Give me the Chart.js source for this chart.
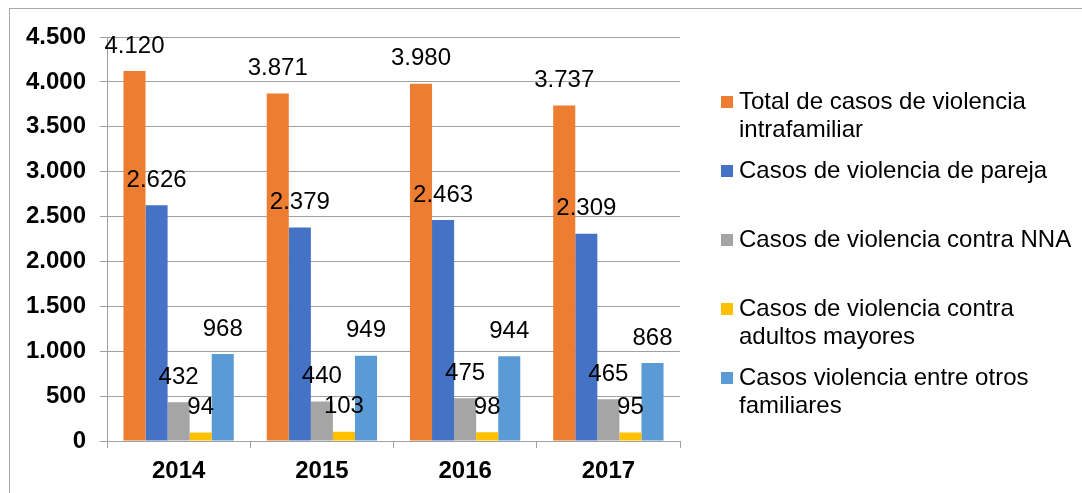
<!DOCTYPE html>
<html>
<head>
<meta charset="utf-8">
<script src="https://cdn.jsdelivr.net/npm/chart.js@4.4.0/dist/chart.umd.min.js"></script>
<style>
  html, body { margin: 0; padding: 0; background: #fff; overflow: hidden; }
  #wrap { position: relative; width: 1082px; height: 493px; }
  #frame { position: absolute; left: 9px; top: 8px; width: 1100px; height: 500px; border: 1px solid #a9a9a9; }
  canvas { position: absolute; left: 0; top: 0; }
</style>
</head>
<body>
<div id="wrap">
  <div id="frame"></div>
  <canvas id="chart" width="1082" height="493"></canvas>
</div>
<script>
var years = ['2014', '2015', '2016', '2017'];
var totalCasos = [4120, 3871, 3980, 3737];
var casosPareja = [2626, 2379, 2463, 2309];
var casosNNA = [432, 440, 475, 465];
var casosAdultos = [94, 103, 98, 95];
var casosOtros = [968, 949, 944, 868];
var seriesNames = [
    ['Total de casos de violencia', 'intrafamiliar'],
    ['Casos de violencia de pareja'],
    ['Casos de violencia contra NNA'],
    ['Casos de violencia contra', 'adultos mayores'],
    ['Casos violencia entre otros', 'familiares']
];
var colors = ['#ED7D31', '#4472C4', '#A5A5A5', '#FFC000', '#5B9BD5'];

function fmt(v) {
    return Number(v).toLocaleString('de-DE');
}

// value labels above each bar
var valueLabels = {
    id: 'valueLabels',
    afterDatasetsDraw: function (chart) {
        var ctx = chart.ctx;
        ctx.save();
        ctx.font = '24px "Liberation Sans", Arial, sans-serif';
        ctx.fillStyle = '#000';
        ctx.textAlign = 'center';
        ctx.textBaseline = 'middle';
        chart.data.datasets.forEach(function (ds, i) {
            var meta = chart.getDatasetMeta(i);
            meta.data.forEach(function (bar, j) {
                ctx.fillText(fmt(ds.data[j]), bar.x, bar.y - 25);
            });
        });
        ctx.restore();
    }
};

// legend on the right, with wrapped names
var sideLegend = {
    id: 'sideLegend',
    afterDraw: function (chart) {
        var ctx = chart.ctx;
        ctx.save();
        ctx.font = '24px "Liberation Sans", Arial, sans-serif';
        ctx.textAlign = 'left';
        ctx.textBaseline = 'middle';
        for (var i = 0; i < seriesNames.length; i++) {
            var y = 102 + 69 * i;
            ctx.fillStyle = colors[i];
            ctx.fillRect(721, y - 6, 12, 12);
            ctx.fillStyle = '#000';
            for (var k = 0; k < seriesNames[i].length; k++) {
                ctx.fillText(seriesNames[i][k], 739, y + 28 * k);
            }
        }
        ctx.restore();
    }
};

var lists = [totalCasos, casosPareja, casosNNA, casosAdultos, casosOtros];
var datasets = [];
for (var i = 0; i < lists.length; i++) {
    datasets.push({
        label: seriesNames[i].join(' '),
        data: lists[i],
        backgroundColor: colors[i],
        categoryPercentage: 0.77,
        barPercentage: 1.0
    });
}

new Chart(document.getElementById('chart'), {
    type: 'bar',
    data: { labels: years, datasets: datasets },
    plugins: [valueLabels, sideLegend],
    options: {
        responsive: false,
        animation: false,
        layout: { padding: { left: 0, top: 37, right: 402, bottom: 0 } },
        plugins: {
            legend: { display: false },
            tooltip: { enabled: false }
        },
        scales: {
            x: {
                afterFit: function (scale) { scale.height = 52; },
                grid: {
                    offset: true,
                    drawOnChartArea: false,
                    tickLength: 7,
                    color: '#a0a0a0'
                },
                border: { color: '#a0a0a0' },
                ticks: {
                    color: '#000',
                    padding: 9,
                    font: { family: '"Liberation Sans", Arial, sans-serif', size: 24, weight: 'bold' }
                }
            },
            y: {
                min: 0,
                max: 4500,
                afterFit: function (scale) { scale.width = 107; },
                grid: { color: '#a0a0a0', tickLength: 7 },
                border: { color: '#a0a0a0' },
                ticks: {
                    stepSize: 500,
                    color: '#000',
                    padding: 14,
                    font: { family: '"Liberation Sans", Arial, sans-serif', size: 24, weight: 'bold' },
                    callback: function (v) { return fmt(v); }
                }
            }
        }
    }
});
</script>
</body>
</html>
